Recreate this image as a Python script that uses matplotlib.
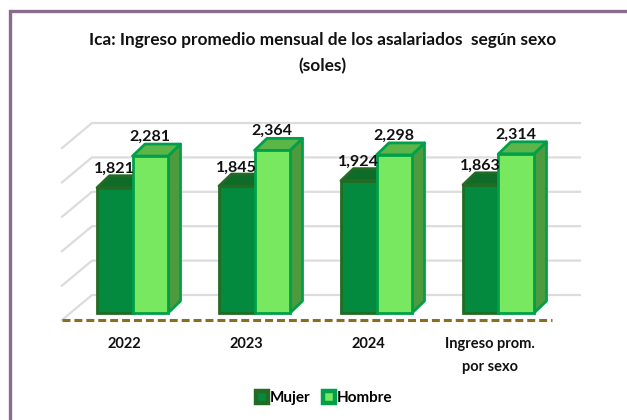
import matplotlib
matplotlib.use('Agg')
import matplotlib.pyplot as plt
from matplotlib.patches import Polygon, Patch, Rectangle
from matplotlib.lines import Line2D

plt.rcParams['font.family'] = ['Lato', 'DejaVu Sans']

# Data
categories = ['2022', '2023', '2024', 'Ingreso prom.\npor sexo']
mujer = [1821, 1845, 1924, 1863]
hombre = [2281, 2364, 2298, 2314]
grid_values = [0, 500, 1000, 1500, 2000, 2500]

W, H = 627, 420
fig = plt.figure(figsize=(W / 100, H / 100), dpi=100)
fig.patch.set_facecolor('white')

# the axes covers the plot area, everything 3D is an offset in data units
left, right, top, bottom = 62, 582, 100, 322
ax = fig.add_axes([left / W, 1 - bottom / H, (right - left) / W, (bottom - top) / H])
px_x = 122.0
px_y = 0.0688
base_px = 313
center_px = 132.5
ax.set_xlim((left - center_px) / px_x, (right - center_px) / px_x)
ax.set_ylim((base_px - bottom) / px_y, (base_px - top) / px_y)
ax.axis('off')

bar_w = 35.5 / px_x
depth_x = 12.5 / px_x
depth_y = 12 / px_y


def draw_bar(x0, value, front, edge, top_c, side):
    x1 = x0 + bar_w
    ax.add_patch(Polygon([(x1, 0), (x1 + depth_x, depth_y), (x1 + depth_x, value + depth_y), (x1, value)],
                         fc=side, ec=edge, lw=2, joinstyle='round', clip_on=False, zorder=3))
    ax.add_patch(Polygon([(x0, value), (x1, value), (x1 + depth_x, value + depth_y), (x0 + depth_x, value + depth_y)],
                         fc=top_c, ec=edge, lw=2, joinstyle='round', clip_on=False, zorder=3))
    ax.add_patch(Rectangle((x0, 0), bar_w, value, fc=front, ec=edge, lw=2, clip_on=False, zorder=3))


# gridlines: back wall plus the diagonal on the side wall
back_dx = 30 / px_x
back_dy = 18 / px_y
front_dy = -7 / px_y
x_start = (left - center_px) / px_x
x_end = (580 - center_px) / px_x
for v in grid_values:
    ax.plot([x_start, x_start + back_dx, x_end], [v + front_dy, v + back_dy, v + back_dy],
            color='#DCDCDC', lw=1.6, zorder=1, clip_on=False)

# floor line
x_floor = (552 - center_px) / px_x
ax.plot([x_start, x_floor], [front_dy, front_dy], color='#8C6D1F', lw=2.2,
        dashes=(2.6, 1.3), zorder=4, clip_on=False)

for i in range(len(categories)):
    draw_bar(i - bar_w, mujer[i], '#038A3E', '#236B24', '#0F6B28', '#0F6B28')
    draw_bar(i, hombre[i], '#78E860', '#00A04A', '#5CB548', '#4E9A3E')
    ax.annotate(f'{mujer[i]:,}', (i - bar_w / 2, mujer[i]), xytext=(0, 13.5), textcoords='offset points',
                ha='center', va='center', fontsize=11.5, fontweight='bold', color='#111111', zorder=5)
    ax.annotate(f'{hombre[i]:,}', (i + bar_w / 2, hombre[i]), xytext=(0, 14), textcoords='offset points',
                ha='center', va='center', fontsize=11.5, fontweight='bold', color='#111111', zorder=5)
    ax.annotate(categories[i], (i - 8.5 / px_x, front_dy), xytext=(0, -12.5), textcoords='offset points',
                ha='center', va='top', fontsize=10.5, fontweight='bold', color='#111111',
                linespacing=1.75, annotation_clip=False)

fig.text(323 / W, 1 - 40.5 / H, 'Ica: Ingreso promedio mensual de los asalariados  según sexo',
         ha='center', va='center', fontsize=12.4, fontweight='bold', color='#111111')
fig.text(322 / W, 1 - 66.5 / H, '(soles)', ha='center', va='center', fontsize=12.4,
         fontweight='bold', color='#111111')

# legend
handles = [Patch(fc='#038A3E', ec='#236B24', lw=3.2), Patch(fc='#78E860', ec='#00A04A', lw=3.2)]
fig.legend(handles, ['Mujer', 'Hombre'], loc='center', bbox_to_anchor=(324 / W, 1 - 398 / H), ncol=2,
           frameon=False, handlelength=0.8, handleheight=0.8, handletextpad=0.1, columnspacing=0.85,
           prop={'size': 11, 'weight': 'bold'})

# purple frame, top and left only
fig.add_artist(Line2D([10 / W, 10 / W, 1], [0, 1 - 11 / H, 1 - 11 / H], color='#8A6A8E', lw=2.4,
                      solid_joinstyle='miter'))

fig.savefig('out.png', dpi=100)
